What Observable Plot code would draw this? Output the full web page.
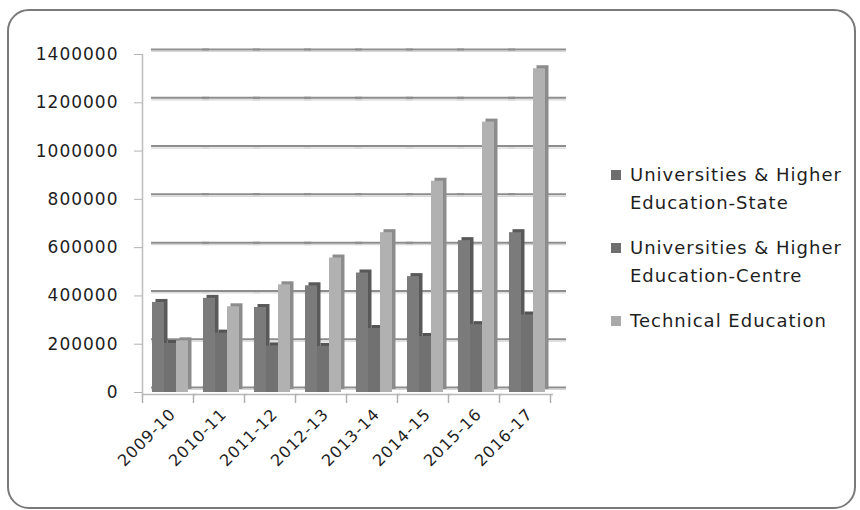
<!DOCTYPE html>
<html>
<head>
<meta charset="utf-8">
<script src="https://cdn.jsdelivr.net/npm/d3@7"></script>
<script src="https://cdn.jsdelivr.net/npm/@observablehq/plot@0.6"></script>
<style>
  body { margin: 0; background: #fff; }
  #wrap { position: relative; width: 860px; height: 510px; overflow: hidden; font-family: "DejaVu Sans", sans-serif; }
  #frame { position: absolute; left: 7px; top: 9px; width: 849px; height: 500px; border: 2.5px solid #7a7a7a; border-radius: 22px; box-sizing: border-box; }
  #chart { position: absolute; left: 0; top: 0; }
  #legend { position: absolute; left: 611px; top: 161px; color: #1e1e1e; font-size: 18px; letter-spacing: 1px; }
  .item { position: relative; padding-left: 19px; line-height: 28px; margin-bottom: 17px; }
  .swatch { position: absolute; left: 0; top: 9px; width: 10px; height: 10px; }
</style>
</head>
<body>
<div id="wrap">
  <div id="frame"></div>
  <div id="chart"></div>
  <div id="legend"></div>
</div>
<script>
// Academic years on the category axis
const years = ["2009-10", "2010-11", "2011-12", "2012-13", "2013-14", "2014-15", "2015-16", "2016-17"];

// Series names (legend labels)
const seriesNames = [
  "Universities & Higher Education-State",
  "Universities & Higher Education-Centre",
  "Technical Education"
];
const legendLines = [
  ["Universities & Higher", "Education-State"],
  ["Universities & Higher", "Education-Centre"],
  ["Technical Education"]
];

// Values per year
const stateValues = [373000, 390000, 352000, 442000, 495000, 480000, 629000, 662000];
const centreValues = [203000, 246000, 193000, 191000, 265000, 232000, 281000, 321000];
const technicalValues = [214000, 355000, 446000, 557000, 662000, 875000, 1120000, 1341000];

// Value axis ticks
const yTicks = [0, 200000, 400000, 600000, 800000, 1000000, 1200000, 1400000];

// Face colours of the columns
const frontColors = ["#7b7b7b", "#717171", "#b1b1b1"];
const sideColors = ["#595959", "#545454", "#8c8c8c"];
const swatchColors = ["#6e6e6e", "#6e6e6e", "#a9a9a9"];

const seriesValues = [stateValues, centreValues, technicalValues];
const rows = years.flatMap((year, i) =>
  seriesNames.map((series, j) => ({ year, series, value: seriesValues[j][i] }))
);

// plot geometry
const W = 600, H = 510, mTop = 54, mBottom = 118;
const frameHeight = H - mTop - mBottom;

// offsets that fake the depth of the 3-D columns and the back wall
const depth = { dx: 3.5, dy: -3 };
const wall = { dx: 9, dy: -5 };
// a short tick hanging below the floor, at the left edge of each year band
const floorTick = { insetTop: frameHeight + 2, insetBottom: -11, stroke: "#b0b0b0", strokeWidth: 1.5 };

const chart = Plot.plot({
  width: W,
  height: H,
  marginLeft: 141,
  marginRight: 50,
  marginTop: mTop,
  marginBottom: mBottom,
  style: { fontFamily: "DejaVu Sans, sans-serif", fontSize: "17px", letterSpacing: "1px", color: "#1e1e1e", background: "transparent", overflow: "visible" },
  fx: { domain: years, padding: 0, label: null },
  x: { domain: seriesNames, paddingInner: 0, paddingOuter: 0.62, align: 0.67, axis: null },
  y: { domain: [0, 1400000], label: null },
  color: { domain: seriesNames, range: frontColors },
  marks: [
    // back-wall gridlines
    Plot.ruleY(yTicks, { ...wall, stroke: "#8d8d8d", strokeWidth: 2, insetRight: -7 }),
    Plot.ruleY(yTicks, { dx: wall.dx, dy: wall.dy + 2, stroke: "#d6d6d6", strokeWidth: 1.2, insetRight: -7 }),
    // floor front edge
    Plot.ruleY([0], { dy: 2, stroke: "#b8b8b8", strokeWidth: 1.5, insetRight: -3 }),
    // category boundary ticks
    Plot.ruleX(years, { fx: d => d, x: () => seriesNames[0], dx: -16, ...floorTick }),
    Plot.ruleX([years[years.length - 1]], { fx: d => d, x: () => seriesNames[2], dx: 11, ...floorTick }),
    // front value-axis line
    Plot.ruleX([years[0]], { fx: d => d, x: () => seriesNames[0], dx: -16, insetBottom: -5, stroke: "#bdbdbd", strokeWidth: 1.5 }),
    // side faces of the columns
    Plot.barY(rows, { fx: "year", x: "series", y: "value", fill: d => sideColors[seriesNames.indexOf(d.series)], ...depth }),
    // front faces of the columns
    Plot.barY(rows, { fx: "year", x: "series", y: "value", fill: "series" }),
    Plot.axisY({ ticks: yTicks, tickFormat: d => String(d), tickSize: 8, tickPadding: 16, stroke: "#b3b3b3", fill: "#1e1e1e", fontSize: 17 }),
    Plot.axisFx({ anchor: "bottom", tickRotate: -45, tickSize: 0, tickPadding: 19, dx: 5, label: null, fill: "#1e1e1e", fontSize: 16, letterSpacing: "0.4px" })
  ]
});
document.getElementById("chart").appendChild(chart);

// legend
const legend = d3.select("#legend");
seriesNames.forEach((name, i) => {
  const item = legend.append("div").attr("class", "item");
  item.append("div").attr("class", "swatch").style("background", swatchColors[i]);
  legendLines[i].forEach(line => item.append("div").text(line));
});
</script>
</body>
</html>
